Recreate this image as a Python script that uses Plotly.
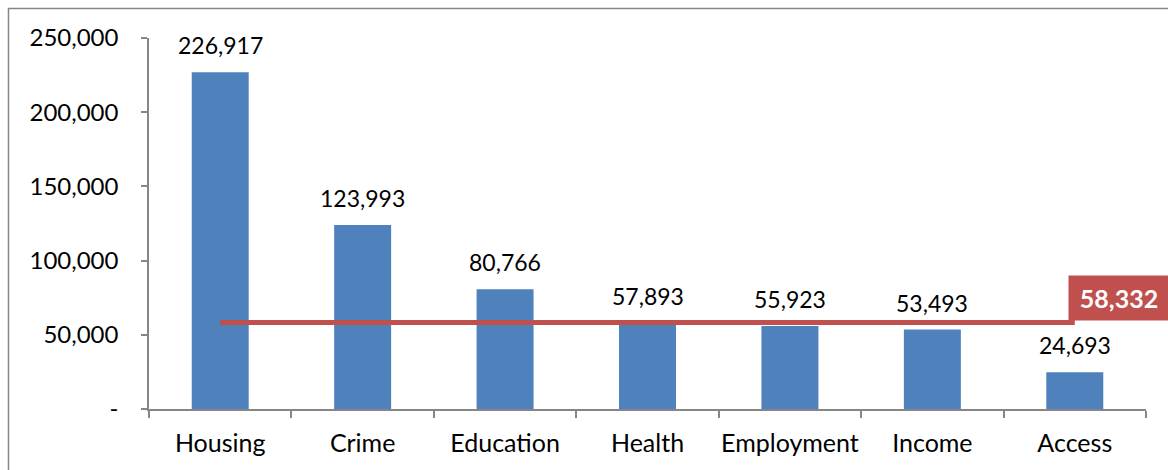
import plotly.graph_objects as go

# Chart data
categories = ["Housing", "Crime", "Education", "Health", "Employment", "Income", "Access"]
values = [226917, 123993, 80766, 57893, 55923, 53493, 24693]
average_value = 58332
y_tickvals = [0, 50000, 100000, 150000, 200000, 250000]
y_ticktext = ["-", "50,000", "100,000", "150,000", "200,000", "250,000"]

# Canvas and plot-area geometry (pixels)
W, H = 1168, 470
ML, MR, MT, MB = 149, 22, 38, 61
PW, PH = W - ML - MR, H - MT - MB

BAR = "#4F81BD"
RED = "#C0504D"
AXIS = "#868686"
FONT = "Lato"


def px_to_paper_x(px):
    return (px - ML) / PW


def px_to_paper_y(py):
    return (H - MB - py) / PH


fig = go.Figure()

fig.add_trace(go.Bar(
    x=categories, y=values, marker=dict(color=BAR, line=dict(width=0)),
    width=0.4, hoverinfo="x+y", cliponaxis=False,
))

# Average line spanning first to last category
fig.add_trace(go.Scatter(
    x=[categories[0], categories[-1]], y=[average_value, average_value],
    mode="lines", line=dict(color=RED, width=5), hoverinfo="skip",
    cliponaxis=False,
))

annotations = []
for c, v in zip(categories, values):
    annotations.append(dict(
        x=c, y=v, xref="x", yref="y", text=f"{v:,}", showarrow=False,
        yanchor="bottom", yshift=11, font=dict(family=FONT, size=23, color="#000000"),
    ))

# Average value callout
annotations.append(dict(
    x=categories[-1], y=average_value, xref="x", yref="y",
    text=f"<b>{average_value:,}</b>", showarrow=False,
    xanchor="left", yanchor="bottom", xshift=-7, yshift=1,
    width=88, height=32, align="center", valign="middle",
    bgcolor=RED, borderpad=6,
    font=dict(family=FONT, size=25, color="#FFFFFF"),
))

# Outer frame (top and left edges)
shapes = [
    dict(type="line", xref="paper", yref="paper",
         x0=px_to_paper_x(8), x1=px_to_paper_x(W),
         y0=px_to_paper_y(8.5), y1=px_to_paper_y(8.5),
         line=dict(color=AXIS, width=1.5)),
    dict(type="line", xref="paper", yref="paper",
         x0=px_to_paper_x(8.5), x1=px_to_paper_x(8.5),
         y0=px_to_paper_y(8), y1=px_to_paper_y(H),
         line=dict(color=AXIS, width=1.5)),
]

fig.update_layout(
    width=W, height=H, autosize=False,
    margin=dict(l=ML, r=MR, t=MT, b=MB, pad=0, autoexpand=False),
    paper_bgcolor="#FFFFFF", plot_bgcolor="#FFFFFF",
    showlegend=False, bargap=0.6,
    font=dict(family=FONT, size=23, color="#000000"),
    annotations=annotations, shapes=shapes,
    xaxis=dict(
        type="category", range=[-0.5, len(categories) - 0.5], automargin=False,
        showgrid=False, zeroline=False,
        showline=True, linecolor=AXIS, linewidth=1.5,
        ticks="outside", tickson="boundaries", ticklen=7, tickcolor=AXIS, tickwidth=1.5,
        tickfont=dict(family=FONT, size=25, color="#000000"),
        tickangle=0, ticklabelstandoff=11,
    ),
    yaxis=dict(
        range=[0, 250000], automargin=False, showgrid=False, zeroline=False,
        showline=True, linecolor=AXIS, linewidth=1.5,
        ticks="outside", ticklen=6, tickcolor=AXIS, tickwidth=1.5,
        tickvals=y_tickvals, ticktext=y_ticktext,
        tickfont=dict(family=FONT, size=24, color="#000000"),
        ticklabelstandoff=18,
    ),
)

fig.write_html("out.html", config={"responsive": False})
